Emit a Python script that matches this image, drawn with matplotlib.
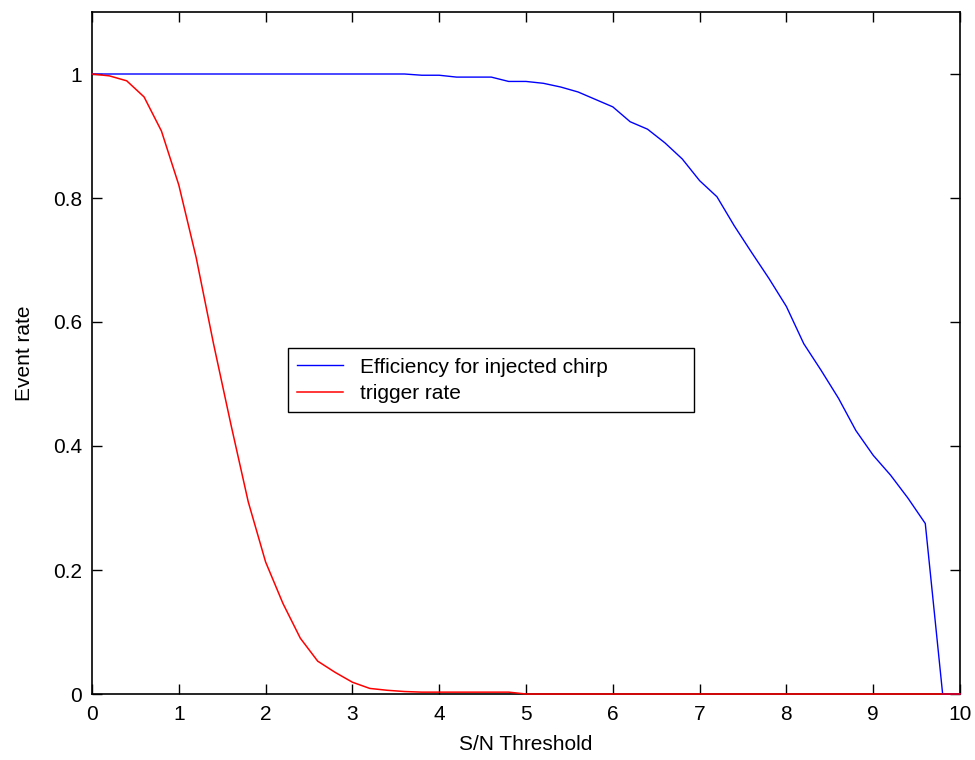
import numpy as np
import matplotlib
matplotlib.use("Agg")
import matplotlib.pyplot as plt

plt.rcParams['font.family'] = ['Liberation Sans', 'DejaVu Sans']

# -- DATA --
snr = np.arange(0, 10.01, 0.2)

efficiency = [1.0, 1.0, 1.0, 1.0, 1.0, 1.0, 1.0, 1.0, 1.0, 1.0,
              1.0, 1.0, 1.0, 1.0, 1.0, 1.0, 1.0, 1.0, 1.0, 0.998,
              0.998, 0.995, 0.995, 0.995, 0.988, 0.988, 0.985, 0.979, 0.971, 0.959,
              0.947, 0.923, 0.911, 0.889, 0.863, 0.828, 0.802, 0.755, 0.712, 0.670,
              0.625, 0.565, 0.522, 0.477, 0.425, 0.385, 0.353, 0.316, 0.275, 0.0,
              0.0]

trigger = [1.0, 0.997, 0.989, 0.963, 0.908, 0.821, 0.704, 0.565, 0.435, 0.31,
           0.213, 0.146, 0.090, 0.053, 0.035, 0.019, 0.009, 0.006, 0.004, 0.003,
           0.003, 0.003, 0.003, 0.003, 0.003, 0.0, 0.0, 0.0, 0.0, 0.0,
           0.0, 0.0, 0.0, 0.0, 0.0, 0.0, 0.0, 0.0, 0.0, 0.0,
           0.0, 0.0, 0.0, 0.0, 0.0, 0.0, 0.0, 0.0, 0.0, 0.0,
           0.0]

fig = plt.figure(figsize=(9.75, 7.6), dpi=100)
ax = fig.add_axes([92/975, 1 - 694/760, (960-92)/975, (694-12)/760])

# lines drawn over the axes frame so the zero stretch of the red curve shows
ax.plot(snr, efficiency, color='#0000ff', lw=1, label='Efficiency for injected chirp',
        clip_on=False, zorder=3)
ax.plot(snr, trigger, color='#ff0000', lw=1.1, label='trigger rate',
        clip_on=False, zorder=3)

ax.set_xlim(0, 10)
ax.set_ylim(0, 1.1)
ax.set_xticks(range(0, 11))
ax.set_yticks([0, 0.2, 0.4, 0.6, 0.8, 1])
ax.set_yticklabels(['0', '0.2', '0.4', '0.6', '0.8', '1'])
ax.tick_params(direction='in', length=7, top=True, right=True, labelsize=15, width=1)
ax.tick_params(axis='x', pad=8)
ax.tick_params(axis='y', pad=7)
for s in ax.spines.values():
    s.set_linewidth(1.2)

ax.set_xlabel('S/N Threshold', fontsize=15, labelpad=8)
ax.set_ylabel('Event rate', fontsize=15, labelpad=14)

leg = ax.legend(loc='upper left', bbox_to_anchor=(196/868, 0.4, 406/868, 0.107),
                mode='expand', borderaxespad=0, fancybox=False, edgecolor='black',
                fontsize=15, handlelength=2.2, handletextpad=0.8, framealpha=1,
                borderpad=0.45, labelspacing=0.35)
leg.get_frame().set_linewidth(1)
leg.set_zorder(5)

fig.savefig('out.png', dpi=100)
